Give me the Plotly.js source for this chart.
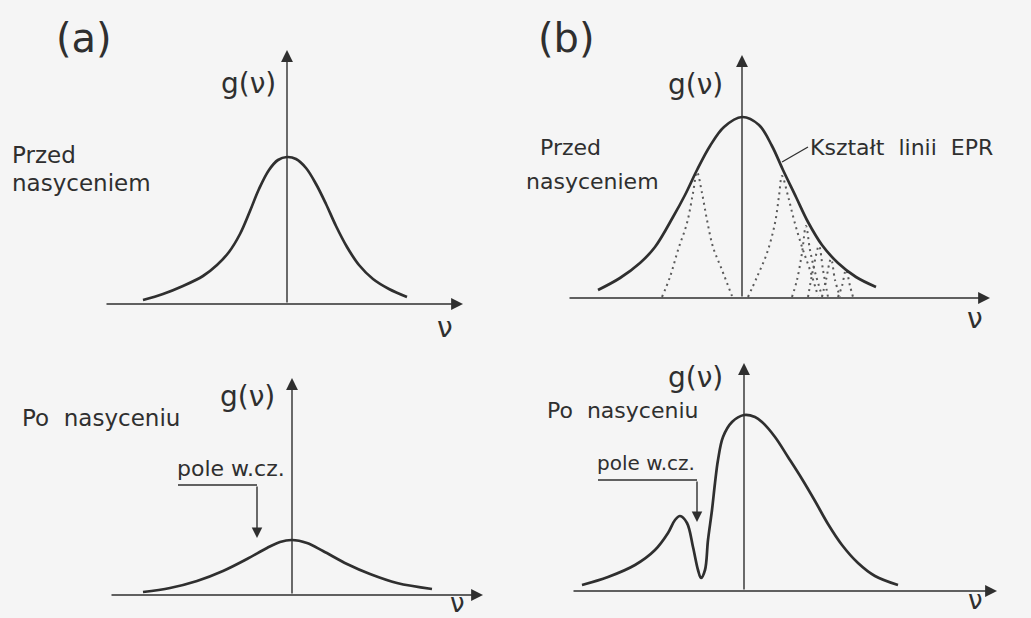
<!DOCTYPE html>
<html>
<head>
<meta charset="utf-8">
<script src="https://cdn.plot.ly/plotly-3.0.1.min.js"></script>
<style>
  html, body { margin: 0; padding: 0; background: #f5f5f5; }
  #fig { width: 1031px; height: 618px; }
</style>
</head>
<body>
<div id="fig"></div>
<script>
// g(nu) line shapes, nu measured from the line centre (1 unit = 100 px on screen)

// (a) before saturation: homogeneous line
const nuA1 = [-1.44, -1.24, -1.04, -0.84, -0.70, -0.58, -0.47, -0.37, -0.28, -0.18, -0.09, 0, 0.09, 0.19, 0.29, 0.39, 0.49, 0.60, 0.72, 0.86, 1.02, 1.20];
const gA1  = [0.04, 0.10, 0.18, 0.28, 0.39, 0.52, 0.70, 0.93, 1.15, 1.34, 1.44, 1.47, 1.45, 1.36, 1.20, 1.00, 0.78, 0.57, 0.39, 0.25, 0.15, 0.07];

// (a) after saturation: whole line lowered
const nuA2 = [-1.49, -1.22, -0.95, -0.69, -0.45, -0.25, -0.12, 0, 0.15, 0.31, 0.55, 0.78, 1.05, 1.40];
const gA2  = [0.03, 0.07, 0.14, 0.24, 0.36, 0.47, 0.53, 0.55, 0.52, 0.44, 0.31, 0.21, 0.12, 0.06];

// (b) before saturation: EPR envelope of the inhomogeneous line
const nuB1 = [-1.44, -1.22, -1.02, -0.87, -0.69, -0.57, -0.45, -0.32, -0.18, 0, 0.17, 0.30, 0.41, 0.54, 0.66, 0.80, 0.96, 1.14, 1.34];
const gB1  = [0.08, 0.20, 0.35, 0.51, 0.81, 1.03, 1.28, 1.52, 1.71, 1.81, 1.73, 1.52, 1.28, 1.01, 0.76, 0.53, 0.35, 0.21, 0.11];

// (b) individual spin packets under the envelope
const nuPacket1 = [-0.80, -0.72, -0.64, -0.55, -0.49, -0.45, -0.40, -0.35, -0.29, -0.20, -0.10];
const gPacket1  = [0.01, 0.21, 0.48, 0.75, 1.05, 1.26, 1.05, 0.78, 0.51, 0.28, 0.02];
const nuPacket2 = [0.06, 0.15, 0.25, 0.33, 0.37, 0.40, 0.46, 0.52, 0.60, 0.68, 0.76];
const gPacket2  = [0.01, 0.21, 0.45, 0.75, 1.02, 1.22, 1.02, 0.78, 0.51, 0.28, 0.02];
const nuPacket3 = [0.50, 0.55, 0.60, 0.64, 0.68, 0.73, 0.80];
const gPacket3  = [0.01, 0.18, 0.45, 0.72, 0.48, 0.26, 0.02];
const nuPacket4 = [0.66, 0.71, 0.77, 0.81, 0.86];
const gPacket4  = [0.01, 0.28, 0.52, 0.28, 0.01];
const nuPacket5 = [0.80, 0.84, 0.89, 0.93, 0.98];
const gPacket5  = [0.01, 0.18, 0.39, 0.18, 0.01];
const nuPacket6 = [0.96, 1.00, 1.04, 1.08, 1.11];
const gPacket6  = [0.01, 0.12, 0.28, 0.12, 0.01];

// (b) after saturation: hole burnt by the rf field
const nuB2 = [-1.62, -1.36, -1.09, -0.89, -0.76, -0.69, -0.64, -0.57, -0.51, -0.46, -0.43, -0.39, -0.36, -0.32, -0.29, -0.26, -0.21, -0.12, 0, 0.11, 0.18, 0.31, 0.44, 0.58, 0.71, 0.84, 0.98, 1.14, 1.31, 1.54];
const gB2  = [0.06, 0.14, 0.26, 0.41, 0.58, 0.71, 0.75, 0.68, 0.44, 0.21, 0.13, 0.21, 0.51, 0.81, 1.08, 1.31, 1.54, 1.69, 1.76, 1.74, 1.69, 1.54, 1.34, 1.12, 0.90, 0.67, 0.46, 0.28, 0.15, 0.06];

// Text labels
const panelTags = ['(a)', '(b)'];
const beforeLabel = ['Przed', 'nasyceniem'];
const afterLabel = 'Po\u00a0 nasyceniu';
const rfLabel = 'pole w.cz.';
const envelopeLabel = 'Kształt\u00a0 linii\u00a0 EPR';
const yLabel = 'g(ν)';
const xLabel = 'ν';

// ---------- layout helpers ----------
const W = 1031, H = 618, SCALE = 100;
const INK = '#2f2f2f';
const FONT = 'DejaVu Sans, sans-serif';
const px = x => x / W;
const py = y => 1 - y / H;

// each quadrant holds one graph; origin = where the two arrows meet
const panels = [
  { id: '',  cols: [0, 515],   rows: [0, 309],   ox: 287, oy: 304, xTail: -1.82, xTip: 1.76, yTip: 2.54 },
  { id: '2', cols: [515, 1031], rows: [0, 309],   ox: 742, oy: 298, xTail: -1.74, xTip: 2.48, yTip: 2.43 },
  { id: '3', cols: [0, 515],   rows: [309, 618], ox: 292, oy: 595, xTail: -1.82, xTip: 1.91, yTip: 2.17 },
  { id: '4', cols: [515, 1031], rows: [309, 618], ox: 744, oy: 591, xTail: -1.72, xTip: 2.53, yTip: 2.28 }
];

const layout = {
  width: W, height: H,
  margin: { l: 0, r: 0, t: 0, b: 0, pad: 0 },
  paper_bgcolor: '#f5f5f5',
  plot_bgcolor: 'rgba(0,0,0,0)',
  showlegend: false,
  annotations: [],
  shapes: []
};

panels.forEach(p => {
  layout['xaxis' + p.id] = {
    domain: [px(p.cols[0]), px(p.cols[1])],
    range: [(p.cols[0] - p.ox) / SCALE, (p.cols[1] - p.ox) / SCALE],
    anchor: 'y' + p.id, visible: false, fixedrange: true
  };
  layout['yaxis' + p.id] = {
    domain: [py(p.rows[1]), py(p.rows[0])],
    range: [(p.oy - p.rows[1]) / SCALE, (p.oy - p.rows[0]) / SCALE],
    anchor: 'x' + p.id, visible: false, fixedrange: true
  };
  const xr = 'x' + p.id, yr = 'y' + p.id;
  // nu axis
  layout.annotations.push({
    xref: xr, yref: yr, axref: xr, ayref: yr,
    x: p.xTip, y: 0, ax: p.xTail, ay: 0, text: '',
    showarrow: true, arrowhead: 2, arrowsize: 1.7, arrowwidth: 1.4, arrowcolor: INK, standoff: 0
  });
  // g(nu) axis
  layout.annotations.push({
    xref: xr, yref: yr, axref: xr, ayref: yr,
    x: 0, y: p.yTip, ax: 0, ay: 0, text: '',
    showarrow: true, arrowhead: 2, arrowsize: 1.7, arrowwidth: 1.4, arrowcolor: INK, standoff: 0
  });
});

function label(text, x, y, size, anchor) {
  layout.annotations.push({
    xref: 'paper', yref: 'paper', x: px(x), y: py(y),
    xanchor: anchor || 'center', yanchor: 'middle', borderpad: 0,
    text: text, showarrow: false,
    font: { family: FONT, size: size, color: INK }
  });
}

// panel tags
label(panelTags[0], 84, 38, 40);
label(panelTags[1], 566, 38, 40);

// axis titles
label(yLabel, 248, 83, 28);
label(yLabel, 695, 85, 28);
label(yLabel, 247, 396, 28);
label(yLabel, 695, 378, 28);
label(xLabel, 445, 327, 28);
label(xLabel, 975, 318, 28);
label(xLabel, 457, 603, 26);
label(xLabel, 975, 600, 26);

// state descriptions
label(beforeLabel[0], 11, 155, 23, 'left');
label(beforeLabel[1], 11, 183, 23, 'left');
label(beforeLabel[0], 539, 147, 22, 'left');
label(beforeLabel[1], 525, 181, 22, 'left');
label(afterLabel, 21, 418, 23, 'left');
label(afterLabel, 546, 410, 22, 'left');
label(envelopeLabel, 809, 147, 22, 'left');
label(rfLabel, 176, 468, 22, 'left');
label(rfLabel, 596, 463, 20, 'left');

// leader from the envelope label to the curve
layout.shapes.push({ type: 'line', xref: 'paper', yref: 'paper',
  x0: px(782), y0: py(162), x1: px(808), y1: py(147), line: { color: INK, width: 1.3 } });

// rf-field pointers: horizontal rule under the label, then arrow down to the line
function rfPointer(x0, xBend, yRule, yTip) {
  layout.shapes.push({ type: 'line', xref: 'paper', yref: 'paper',
    x0: px(x0), y0: py(yRule), x1: px(xBend), y1: py(yRule), line: { color: INK, width: 1.4 } });
  layout.annotations.push({ xref: 'paper', yref: 'paper', x: px(xBend), y: py(yTip),
    ax: 0, ay: -(yTip - yRule), axref: 'pixel', ayref: 'pixel', text: '',
    showarrow: true, arrowhead: 2, arrowsize: 1.5, arrowwidth: 1.4, arrowcolor: INK, standoff: 0 });
}
rfPointer(178, 257, 485, 538);
rfPointer(598, 697, 480, 522);

// ---------- traces ----------
const solid = { color: INK, width: 2.7, shape: 'spline', smoothing: 1 };
const dotted = { color: '#5a5a5a', width: 2, dash: '2px,4px', shape: 'spline', smoothing: 1 };
function curve(x, y, axisId, line) {
  return { type: 'scatter', mode: 'lines', x: x, y: y,
    xaxis: 'x' + axisId, yaxis: 'y' + axisId, line: line, hoverinfo: 'skip' };
}

const traces = [
  curve(nuA1, gA1, '', solid),
  curve(nuPacket1, gPacket1, '2', dotted),
  curve(nuPacket2, gPacket2, '2', dotted),
  curve(nuPacket3, gPacket3, '2', dotted),
  curve(nuPacket4, gPacket4, '2', dotted),
  curve(nuPacket5, gPacket5, '2', dotted),
  curve(nuPacket6, gPacket6, '2', dotted),
  curve(nuB1, gB1, '2', solid),
  curve(nuA2, gA2, '3', solid),
  curve(nuB2, gB2, '4', solid)
];

Plotly.newPlot('fig', traces, layout, { staticPlot: true, displayModeBar: false });
</script>
</body>
</html>
